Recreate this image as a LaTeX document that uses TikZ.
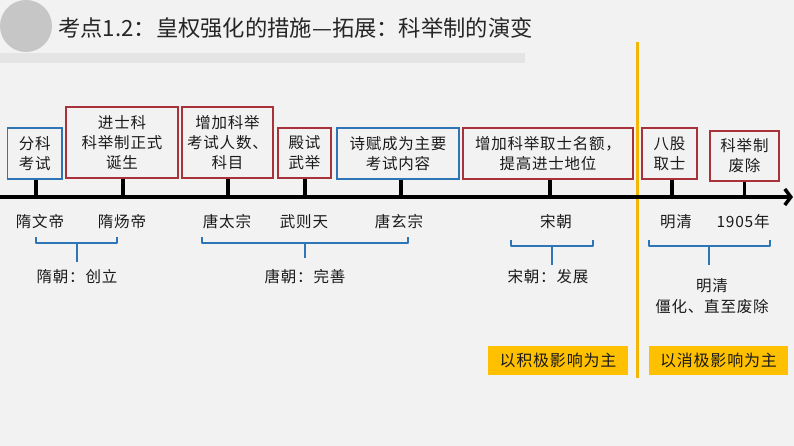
\documentclass[tikz,border=0pt]{standalone}
\usepackage{fontspec}
\setmainfont{Noto Sans CJK SC}
\newfontfamily\spacedfont[LetterSpace=5]{Noto Sans CJK SC}
\usetikzlibrary{arrows.meta}
\definecolor{bgc}{HTML}{F2F2F2}
\definecolor{bandc}{HTML}{E4E4E4}
\definecolor{circc}{HTML}{C6C6C6}
\definecolor{redc}{HTML}{A8323A}
\definecolor{bluec}{HTML}{2E75B6}
\definecolor{goldc}{HTML}{FFC000}
\definecolor{linec}{HTML}{F2B705}
\definecolor{txtc}{HTML}{1A1A1A}
\tikzset{
  boxbase/.style={draw, line width=1.4pt, fill=bgc, inner sep=0pt, align=center,
    text=txtc, font=\spacedfont\fontsize{15.5}{20}\selectfont},
  redbox/.style={boxbase, draw=redc},
  bluebox/.style={boxbase, draw=bluec},
  stem/.style={line width=3.5pt, draw=black},
  lbl/.style={text=txtc, font=\spacedfont\fontsize{15.5}{20}\selectfont, inner sep=0pt},
  grp/.style={text=txtc, font=\spacedfont\fontsize{15.5}{21}\selectfont, inner sep=0pt, align=center},
  bracec/.style={draw=bluec, line width=2pt, line join=round},
  tickc/.style={draw=bluec, line width=1.6pt},
  goldbox/.style={fill=goldc, inner sep=0pt, text=txtc, font=\spacedfont\fontsize{16}{20}\selectfont}
}
\begin{document}
\begin{tikzpicture}[x=1pt,y=-1pt]
\fill[bgc] (0,0) rectangle (794,446);
\useasboundingbox (0,0) rectangle (794,446);
% header
\fill[bandc] (0,53) rectangle (525,63);
\fill[circc] (26,26) circle (26);
\node[anchor=west, text=black!85, font=\fontsize{22.3}{24}\selectfont, inner sep=0pt] (title) at (58,28) {考点1.2：皇权强化的措施—拓展：科举制的演变};
% divider
\draw[linec, line width=2.5pt] (637.5,42) -- (637.5,378);
% axis
\coordinate (axL) at (0,197);
\coordinate (axR) at (793,197);
\draw[line width=3.5pt, -{Straight Barb[length=6pt,width=16pt]}] (axL) -- (axR);
% boxes
\node[bluebox, minimum width=54.5pt, minimum height=51pt] (b1) at (34.75,153.5) {分科\\考试};
\node[redbox, minimum width=112pt, minimum height=71pt] (b2) at (122,142.5) {进士科\\科举制正式\\诞生};
\node[redbox, minimum width=91pt, minimum height=71pt] (b3) at (227.5,142.5) {增加科举\\考试人数、\\科目};
\node[redbox, minimum width=53pt, minimum height=50pt] (b4) at (304.5,153) {殿试\\武举};
\node[bluebox, minimum width=122pt, minimum height=51pt] (b5) at (398,153.5) {诗赋成为主要\\考试内容};
\node[redbox, minimum width=170pt, minimum height=51pt] (b6) at (548,153.5) {增加科举取士名额，\\提高进士地位};
\node[redbox, minimum width=55pt, minimum height=51pt] (b7) at (669.5,153.5) {八股\\取士};
\node[redbox, minimum width=69pt, minimum height=50pt] (b8) at (744.5,156) {科举制\\废除};
% stems
\draw[stem] ([xshift=1pt]b1.south) -- ([xshift=1pt]b1.south |- axL);
\draw[stem] ([xshift=1pt]b2.south) -- ([xshift=1pt]b2.south |- axL);
\draw[stem] ([xshift=0.5pt]b3.south) -- ([xshift=0.5pt]b3.south |- axL);
\draw[stem] ([xshift=0.5pt]b4.south) -- ([xshift=0.5pt]b4.south |- axL);
\draw[stem] ([xshift=3pt]b5.south) -- ([xshift=3pt]b5.south |- axL);
\draw[stem] ([xshift=2pt]b6.south) -- ([xshift=2pt]b6.south |- axL);
\draw[stem] ([xshift=2.5pt]b7.south) -- ([xshift=2.5pt]b7.south |- axL);
\draw[stem] (b8.south) -- (b8.south |- axL);
% labels under the axis
\node[lbl] (l1) at (40,222) {隋文帝};
\node[lbl] (l2) at (122,222) {隋炀帝};
\node[lbl] (l3) at (227,222) {唐太宗};
\node[lbl] (l4) at (304,222) {武则天};
\node[lbl] (l5) at (399,222) {唐玄宗};
\node[lbl] (l6) at (556,222) {宋朝};
\node[lbl] (l7) at (676,222) {明清};
\node[lbl] (l8) at (743,222) {1905年};
% braces
\draw[bracec] (36,237) -- (36,243) -- (117,243) -- (117,237);
\draw[tickc] (77,243) -- (77,262);
\draw[bracec] (202,237) -- (202,243) -- (408,243) -- (408,237);
\draw[tickc] (305,243) -- (305,258);
\draw[bracec] (511,240) -- (511,246) -- (593,246) -- (593,240);
\draw[tickc] (552,246) -- (552,265);
\draw[bracec] (649,240) -- (649,246) -- (770,246) -- (770,240);
\draw[tickc] (709,246) -- (709,265);
% group labels
\node[grp] (g1) at (77,277) {隋朝：创立};
\node[grp] (g2) at (305,277) {唐朝：完善};
\node[grp] (g3) at (548,277) {宋朝：发展};
\node[grp] (g4) at (712,296) {明清\\僵化、直至废除};
% summary boxes
\node[goldbox, minimum width=140pt, minimum height=29pt] (y1) at (558,360.5) {以积极影响为主};
\node[goldbox, minimum width=139pt, minimum height=29pt] (y2) at (718.5,360.5) {以消极影响为主};
\end{tikzpicture}
\end{document}
